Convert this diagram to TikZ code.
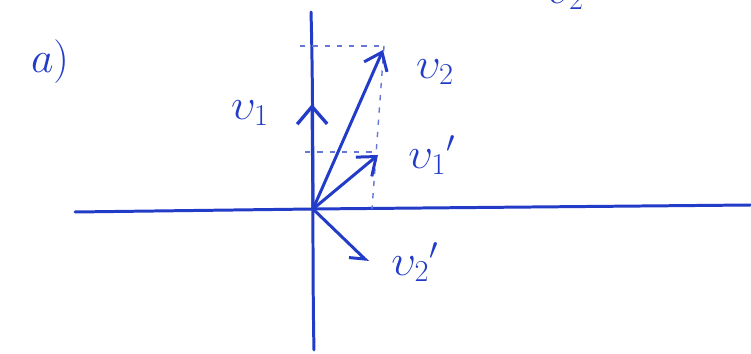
\documentclass[tikz,border=0pt]{standalone}
\usetikzlibrary{arrows.meta}
\definecolor{ink}{RGB}{35,60,200}
\begin{document}
\begin{tikzpicture}[x=0.02cm,y=-0.02cm,
  pen/.style={ink,line width=1.7pt,line cap=round},
  vec/.style={pen,-{Straight Barb[length=3.2mm,width=5mm,line width=1.7pt]}},
  guide/.style={ink!70,line width=0.8pt,dash pattern=on 3pt off 4pt},
  lbl/.style={ink,font=\fontsize{26}{28}\selectfont}]
\clip (0,0) rectangle (751,354);
\fill[white] (0,0) rectangle (751,354);
% axes
\coordinate (O) at (313,209);
\coordinate (ytop) at (311,12);
\coordinate (ybot) at (314,350);
\coordinate (xl) at (75,212);
\coordinate (xr) at (751,205);
\draw[pen] (ytop) .. controls (314,120) and (312,260) .. (ybot);
\draw[pen] (xl) -- (O) -- (xr);
% guide lines
\coordinate (g1) at (300,46);
\coordinate (g2) at (384,46);
\coordinate (g3) at (305,152);
\coordinate (g4) at (378,152);
\coordinate (g5) at (372,209);
\draw[guide] (g1) -- (g2);
\draw[guide] (g3) -- (g4);
\draw[guide] (g2) -- (g5);
% vectors
\coordinate (v1) at (312,104);
\coordinate (v2) at (383,50);
\coordinate (v1p) at (378,155);
\coordinate (v2p) at (368,262);
\draw[pen,-{Straight Barb[length=3.5mm,width=6mm,line width=1.9pt]}] (O) -- (v1);
\draw[vec] (O) -- (v2);
\draw[vec] (O) -- (v1p);
\draw[pen,-{Straight Barb[length=2.5mm,width=4mm,line width=1.7pt,right]}] (O) -- (v2p);
% labels
\node[lbl] (l1) at (250,113) {$\upsilon_1$};
\node[lbl] (l2) at (435,72) {$\upsilon_2$};
\node[lbl] (l1p) at (432,155) {$\upsilon_1{}'$};
\node[lbl] (l2p) at (415,262) {$\upsilon_2{}'$};
\node[lbl] (ltop) at (565,-3) {$\upsilon_2$};
\node[lbl] (la) at (50,62) {$a)$};
\end{tikzpicture}
\end{document}
